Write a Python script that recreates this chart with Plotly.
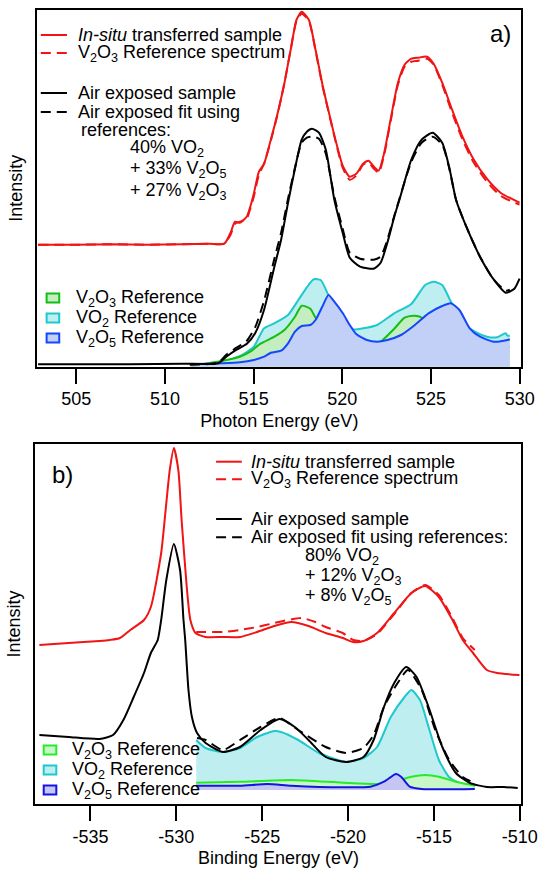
import plotly.graph_objects as go

W, H = 554, 871
FONT = "Liberation Sans, Arial, Helvetica, sans-serif"

# ---------------- panel a) : Photon energy (eV), intensity (arb. units) ----------------
e_red_a = [502.85, 505.0, 507.0, 509.0, 511.0, 512.5, 513.35, 513.7, 513.95, 514.22, 514.61, 514.81,
           515.01, 515.30, 515.59, 515.97, 516.36, 516.74, 517.12, 517.42, 517.71, 518.11, 518.49,
           518.88, 519.26, 519.64, 520.02, 520.41, 520.79, 521.17, 521.48, 521.78, 522.05, 522.35,
           522.73, 523.12, 523.51, 523.89, 524.28, 524.77, 525.15, 525.63, 526.21, 526.80, 527.38,
           528.15, 528.92, 529.99]
i_red_a = [122, 122, 122.5, 122, 122.5, 123, 123, 134, 145, 144, 150, 160,
           173, 195, 203, 227, 254, 284, 320, 347, 355, 347, 317,
           282, 253, 225, 201, 190, 193, 203, 206, 200, 196, 213,
           248, 283, 302, 308, 309, 310, 303, 284, 256, 229, 208,
           188, 174, 164]
i_redref_a = [122, 122, 122.5, 122, 122.5, 123, 123, 132, 143, 145, 148, 158,
              170, 192, 203, 226, 253, 284, 320, 346, 353, 346, 316,
              281, 252, 224, 199, 187, 191, 202, 204, 198, 194, 211,
              246, 281, 300, 305, 306, 308, 302, 282, 253, 226, 205,
              185, 171, 162]

e_blk_a = [502.85, 505, 508, 511, 513.0, 513.46, 514.04, 514.62, 515.10, 515.59, 516.17, 516.55,
           516.94, 517.33, 517.71, 518.0, 518.29, 518.68, 519.07, 519.55, 520.02, 520.42, 521.0,
           521.77, 522.16, 522.54, 522.93, 523.22, 523.89, 524.47, 525.09, 525.63, 526.02, 526.41,
           526.99, 527.76, 528.54, 529.21, 529.70, 529.99]
i_blk_a = [2.5, 2.5, 2.5, 3, 3.5, 10, 17, 23, 34, 57, 100, 127,
           164, 198, 227, 235, 238, 234, 217, 167, 134, 109, 100,
           98, 104, 124, 150, 167, 207, 227, 234, 224, 200, 167,
           140, 110, 87, 74, 78, 88]

e_fit_a = [511.4, 513.0, 513.46, 514.04, 514.62, 515.10, 515.59, 516.17, 516.55, 516.94, 517.33,
           517.71, 518.0, 518.29, 518.68, 519.07, 519.55, 520.02, 520.42, 521.0, 521.77, 522.16,
           522.54, 522.93, 523.22, 523.89, 524.47, 525.09, 525.63, 526.02, 526.41, 526.99, 527.76,
           528.54, 529.21, 529.44]
i_fit_a = [2, 4, 12, 19, 26, 40, 66, 108, 134, 168, 199,
           224, 229, 230, 228, 213, 170, 138, 114, 108, 107, 110,
           127, 151, 168, 205, 224, 230, 222, 199, 167, 140, 110,
           87, 76, 77]

e_v2o3_a = [511.5, 513.27, 514.23, 514.81, 515.39, 516.17, 516.75, 517.33, 517.71, 518.20, 518.49,
            518.80, 519.5, 520.0, 520.5, 521.0, 521.5, 521.9, 522.16, 522.93, 523.51, 524.0, 524.38,
            524.57, 525.0, 525.6, 526.2, 526.8, 527.4, 528.0, 528.6, 529.44]
i_v2o3_a = [1, 6, 10, 15, 23, 30, 37, 50, 61, 58, 49,
            44, 40, 33, 27, 23, 22, 23.5, 25, 38, 49, 51, 50,
            48, 46, 44, 40, 34, 28, 24, 21, 20]

e_vo2_a = [511.45, 513.27, 514.23, 515.01, 515.59, 516.17, 516.94, 517.52, 518.0, 518.39, 518.78,
           519.26, 519.55, 520.03, 520.61, 521.19, 521.96, 522.93, 523.89, 524.67, 525.15, 525.63,
           526.12, 526.6, 527.0, 527.47, 528.15, 528.73, 529.21, 529.31, 529.44]
i_vo2_a = [1.5, 5, 10.7, 20, 38.4, 43.4, 51.7, 66.7, 79.4, 87.4, 86.7,
           70, 62, 50, 37.4, 38.4, 41.7, 53.4, 62.7, 81.7, 85, 81.7,
           65, 52, 41, 35, 30, 29.4, 33.4, 31, 31]

e_v2o5_a = [511.43, 513.27, 514.23, 515.01, 515.59, 515.97, 516.55, 516.94, 517.33, 517.71, 518.20,
            518.49, 518.87, 519.22, 519.55, 520.03, 520.42, 520.80, 521.38, 521.96, 522.54, 523.31,
            524.09, 524.86, 525.63, 526.12, 526.60, 527.18, 527.76, 528.54, 529.31, 529.44]
i_v2o5_a = [2.4, 3.4, 4.4, 6.7, 10, 14, 16, 23.4, 35, 40.7, 41.7,
            46.7, 60, 71.7, 65, 53.4, 41.7, 32.4, 26.7, 25, 26.7, 31.7,
            41.7, 53.4, 60.7, 63.4, 56.7, 38.4, 30, 25, 26.7, 27.5]

ticks_a = [505, 510, 515, 520, 525, 530]
ticklabels_a = ["505", "510", "515", "520", "525", "530"]

# ---------------- panel b) : Binding energy (eV) ----------------
e_red_b = [-537.97, -536.27, -534.47, -533.88, -533.28, -532.68, -531.88, -531.48, -530.88, -530.58,
           -530.38, -530.14, -529.88, -529.69, -529.39, -529.18, -528.88, -528.3, -527.3, -526.29,
           -525.3, -524.3, -523.3, -522.3, -521.3, -520.3, -519.7, -519.1, -518.31, -517.31,
           -516.31, -515.51, -514.71, -513.92, -513.32, -512.72, -511.92, -511.32, -510.02]
i_red_b = [145, 147, 149, 150, 152, 160, 170, 183, 237, 287,
           320, 342, 320, 270, 203, 170, 157, 153, 153, 153,
           158, 164, 168, 164, 157, 152, 148, 149, 157, 177,
           197, 204, 193, 170, 150, 137, 120, 117, 115]

e_redref_b = [-528.84, -528.28, -527.29, -526.29, -525.29, -524.29, -523.5, -522.70, -521.90, -521.30,
              -520.31, -519.70, -519.1, -518.31, -517.31, -516.31, -515.51, -514.71, -513.92, -513.32,
              -512.62]
i_redref_b = [158, 158, 158, 160, 163, 167, 170, 172, 168, 163,
              157, 150, 149, 156, 176, 197, 205, 195, 172, 152,
              140]

e_blk_b = [-537.97, -536.27, -534.47, -533.68, -533.08, -532.48, -531.88, -531.48, -531.08, -530.88,
           -530.58, -530.14, -529.78, -529.58, -529.48, -529.29, -529.09, -528.79, -528.29, -527.29,
           -526.29, -525.09, -523.99, -523.10, -522.30, -521.30, -520.11, -519.10, -518.51, -517.91,
           -517.31, -516.61, -516.01, -515.31, -514.51, -513.72, -512.91, -511.92, -510.93, -510.12]
i_blk_b = [55, 53, 51, 55, 70, 93, 117, 137, 150, 170,
           210, 246, 220, 170, 150, 100, 73, 57, 47, 38,
           43, 60, 71, 63, 50, 33, 28, 33, 50, 83,
           107, 123, 113, 83, 43, 17, 7, 3, 3, 2]

e_fit_b = [-528.79, -528.29, -527.29, -526.29, -525.09, -523.99, -522.90, -521.30, -520.11, -519.10,
           -518.51, -517.91, -517.11, -516.51, -515.71, -514.92, -514.11, -513.32, -512.62]
i_fit_b = [52, 50, 40, 50, 63, 72, 60, 43, 37, 42,
           55, 83, 107, 120, 100, 60, 30, 13, 7]

e_vo2_b = [-528.84, -528.29, -527.29, -526.29, -525.29, -524.29, -523.90, -522.90, -521.70, -520.11,
           -519.10, -518.31, -517.51, -516.71, -516.31, -515.81, -515.31, -514.71, -514.11, -513.52,
           -512.62]
i_vo2_b = [50, 42, 38, 42, 53, 59, 58, 50, 37, 28,
           32, 43, 73, 93, 100, 90, 63, 30, 13, 7,
           3]

e_v2o3_b = [-528.84, -526.29, -523.30, -520.31, -518.31, -517.31, -516.31, -515.51, -514.71, -513.72,
            -512.62]
i_v2o3_b = [7.3, 8.3, 10, 7.3, 6, 8.3, 13.3, 15, 13.3, 8.3, 4.3]

e_v2o5_b = [-528.84, -526.29, -524.70, -523.30, -520.31, -518.70, -517.91, -517.21, -516.91, -516.41,
            -515.71, -512.62]
i_v2o5_b = [4.3, 4.3, 6, 4.3, 2.7, 3.3, 8.3, 16, 13.3, 3.3, 1, 1]

ticks_b = [-535, -530, -525, -520, -515, -510]
ticklabels_b = ["-535", "-530", "-525", "-520", "-515", "-510"]

# ---------------- styles ----------------
RED = "rgb(240,20,20)"
BLACK = "black"
A_COL = {"v2o3": ("rgb(20,190,20)", "rgb(196,238,192)"),
         "vo2": ("rgb(30,200,205)", "rgb(190,238,240)"),
         "v2o5": ("rgb(20,70,250)", "rgb(194,208,248)")}
B_COL = {"v2o3": ("rgb(40,235,40)", "rgb(200,248,200)"),
         "vo2": ("rgb(30,200,205)", "rgb(190,238,240)"),
         "v2o5": ("rgb(20,20,225)", "rgb(198,198,245)")}
DASH = "10px,6px"


def px(x):
    return x / W


def py(y):
    return 1 - y / H


fig = go.Figure()


def line(x, y, color, xa, ya, dash=None, width=2):
    fig.add_trace(go.Scatter(x=x, y=y, mode="lines", xaxis=xa, yaxis=ya, showlegend=False,
                             line=dict(color=color, width=width, dash=dash, shape="spline", smoothing=0.6),
                             hoverinfo="skip"))


def filled(x, y, cols, xa, ya):
    fig.add_trace(go.Scatter(x=x, y=y, mode="lines", xaxis=xa, yaxis=ya, showlegend=False,
                             fill="tozeroy", fillcolor=cols[1],
                             line=dict(color=cols[0], width=2, shape="spline", smoothing=0.6),
                             hoverinfo="skip"))


# panel a
filled(e_vo2_a, i_vo2_a, A_COL["vo2"], "x", "y")
filled(e_v2o3_a, i_v2o3_a, A_COL["v2o3"], "x", "y")
filled(e_v2o5_a, i_v2o5_a, A_COL["v2o5"], "x", "y")
line(e_red_a, i_redref_a, RED, "x", "y", dash=DASH)
line(e_red_a, i_red_a, RED, "x", "y")
line(e_fit_a, i_fit_a, BLACK, "x", "y", dash=DASH)
line(e_blk_a, i_blk_a, BLACK, "x", "y")

# panel b
filled(e_vo2_b, i_vo2_b, B_COL["vo2"], "x2", "y2")
filled(e_v2o3_b, i_v2o3_b, B_COL["v2o3"], "x2", "y2")
filled(e_v2o5_b, i_v2o5_b, B_COL["v2o5"], "x2", "y2")
line(e_redref_b, i_redref_b, RED, "x2", "y2", dash=DASH)
line(e_red_b, i_red_b, RED, "x2", "y2")
line(e_fit_b, i_fit_b, BLACK, "x2", "y2", dash=DASH)
line(e_blk_b, i_blk_b, BLACK, "x2", "y2")

axis_common = dict(showline=True, mirror=True, linecolor="black", linewidth=2,
                   showgrid=False, zeroline=False)
xcommon = dict(axis_common, ticks="outside", ticklen=15, tickwidth=2, tickcolor="black",
               tickmode="array", tickfont=dict(size=18, color="black", family=FONT))
ycommon = dict(axis_common, showticklabels=False, ticks="")

fig.update_layout(
    width=W, height=H, margin=dict(l=0, r=0, t=0, b=0),
    paper_bgcolor="white", plot_bgcolor="white",
    font=dict(family=FONT, size=18, color="black"),
    xaxis=dict(xcommon, domain=[px(38.3), px(537)], range=[502.8, 530.1], anchor="y",
               tickvals=ticks_a, ticktext=ticklabels_a,
               title=dict(text="Photon Energy (eV)", standoff=6, font=dict(size=18))),
    yaxis=dict(ycommon, domain=[py(366.7), py(10)], range=[0, 356.7], anchor="x",
               title=dict(text="Intensity", standoff=8, font=dict(size=18))),
    xaxis2=dict(xcommon, domain=[px(36.5), px(537)], range=[-538.2, -509.9], anchor="y2",
                tickvals=ticks_b, ticktext=ticklabels_b,
                title=dict(text="Binding Energy (eV)", standoff=6, font=dict(size=18))),
    yaxis2=dict(ycommon, domain=[py(804), py(444)], range=[-14, 346], anchor="x2",
                title=dict(text="Intensity", standoff=8, font=dict(size=18))),
)

shapes = []
annotations = []


def text(x, y, s, size=18, anchor="left"):
    annotations.append(dict(x=px(x), y=py(y), xref="paper", yref="paper", text=s, showarrow=False,
                            xanchor=anchor, yanchor="middle", font=dict(size=size, color="black", family=FONT)))


def sample(x0, x1, y, color, dash=None):
    shapes.append(dict(type="line", xref="paper", yref="paper", x0=px(x0), x1=px(x1), y0=py(y), y1=py(y),
                       line=dict(color=color, width=2, dash=dash)))


def swatch(x0, x1, yc, cols):
    shapes.append(dict(type="rect", xref="paper", yref="paper", x0=px(x0), x1=px(x1),
                       y0=py(yc + 4.5), y1=py(yc - 4.5), line=dict(color=cols[0], width=2),
                       fillcolor=cols[1]))


V2O3 = "V<sub>2</sub>O<sub>3</sub>"
V2O5 = "V<sub>2</sub>O<sub>5</sub>"
VO2 = "VO<sub>2</sub>"

# panel a legend
sample(42, 69, 35, RED)
sample(42, 69, 53, RED, DASH)
sample(42, 69, 93, BLACK)
sample(42, 69, 112, BLACK, DASH)
text(78, 35, "<i>In-situ</i> transferred sample")
text(78, 53, V2O3 + " Reference spectrum")
text(78, 93, "Air exposed sample")
text(78, 112, "Air exposed fit using")
text(81, 130, "references:")
text(132, 148, "40% " + VO2)
text(132, 170, "+ 33% " + V2O5)
text(132, 191, "+ 27% " + V2O3)
text(528, 33, "a)", size=24, anchor="right")
swatch(48, 61, 298, A_COL["v2o3"])
swatch(48, 61, 318, A_COL["vo2"])
swatch(48, 61, 338, A_COL["v2o5"])
text(76, 298, V2O3 + " Reference")
text(76, 318, VO2 + " Reference")
text(76, 338, V2O5 + " Reference")

# panel b legend
sample(222.5, 249, 461.7, RED)
sample(222.5, 249, 479.3, RED, DASH)
sample(222.5, 249, 519, BLACK)
sample(222.5, 249, 537.3, BLACK, DASH)
text(256, 461.7, "<i>In-situ</i> transferred sample")
text(256, 479.3, V2O3 + " Reference spectrum")
text(256, 519, "Air exposed sample")
text(256, 537.3, "Air exposed fit using references:")
text(312.5, 556, "80% " + VO2)
text(312.5, 576, "+ 12% " + V2O3)
text(312.5, 596, "+ 8% " + V2O5)
text(51, 475, "b)", size=24)
swatch(45, 58, 750, B_COL["v2o3"])
swatch(45, 58, 770, B_COL["vo2"])
swatch(45, 58, 790, B_COL["v2o5"])
text(72, 750, V2O3 + " Reference")
text(72, 770, VO2 + " Reference")
text(72, 790, V2O5 + " Reference")

fig.update_layout(shapes=shapes, annotations=annotations)
fig.write_html("out.html", config={"displayModeBar": False},
               post_script="document.body.style.margin='0px';document.body.style.overflow='hidden';")
